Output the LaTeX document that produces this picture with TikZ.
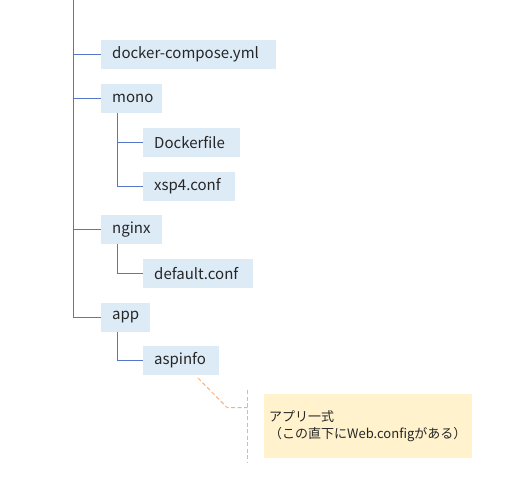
\documentclass[tikz,border=0pt]{standalone}
\usepackage{fontspec}
\setmainfont{Noto Sans CJK JP}
\usetikzlibrary{positioning}
\definecolor{boxblue}{HTML}{DDEBF7}
\definecolor{treeline}{HTML}{5676C8}
\definecolor{notefill}{HTML}{FFF2CC}
\definecolor{noteline}{HTML}{F4B183}
\definecolor{txt}{HTML}{262626}

\begin{document}
\begin{tikzpicture}[x=1pt,y=-1pt,
    file node/.style={fill=boxblue,anchor=west,minimum height=29pt,inner xsep=11pt,text=txt,align=left,font=\fontsize{15}{17}\selectfont},
    boxw/.style={text width=#1pt-22pt},
    note node/.style={fill=notefill,anchor=north west,minimum width=208pt,minimum height=64pt,inner xsep=5pt,text width=198pt,align=left,text=txt,font=\fontsize{13}{16.5}\selectfont},
    branch/.style={draw=treeline,line width=1pt},
    leader/.style={draw=noteline,line width=1pt,dash pattern=on 4pt off 2.5pt}]

    \useasboundingbox (0,0) rectangle (532,482);

    \coordinate (top) at (73.5,0);
    \node[file node,boxw=175] (compose) at (101,54.5) {docker-compose.yml};
    \node[file node,boxw=61] (mono) at (101,98.5) {mono};
    \node[file node,boxw=97] (docker) at (143,142.5) {Dockerfile};
    \node[file node,boxw=92] (xsp) at (143,186.5) {xsp4.conf};
    \node[file node,boxw=61] (nginx) at (101,229.5) {nginx};
    \node[file node,boxw=110] (default) at (143,273.5) {default.conf};
    \node[file node,boxw=49] (app) at (101,317.5) {app};
    \node[file node,boxw=76] (aspinfo) at (143,360.5) {aspinfo};

    \node[note node] (note) at (264,394) {アプリ一式\\（この直下にWeb.configがある）};
    \coordinate (lead) at (198,378);
    \coordinate (bend) at (227,407.5);
    \coordinate (brtop) at (247.5,390);
    \coordinate (brbot) at (247.5,463);

    % main trunk
    \draw[branch] (top) |- (compose.west)
                  (top) |- (mono.west)
                  (top) |- (nginx.west)
                  (top) |- (app.west);
    % sub folders
    \draw[branch] ([xshift=16.5pt]mono.south west) |- (docker.west)
                  ([xshift=16.5pt]mono.south west) |- (xsp.west);
    \draw[branch] ([xshift=16.5pt]nginx.south west) |- (default.west);
    \draw[branch] ([xshift=16.5pt]app.south west) |- (aspinfo.west);

    % callout
    \draw[leader] (lead) -- (bend) -- (bend -| brtop);
    \draw[leader] (brtop) -- (brbot);
\end{tikzpicture}
\end{document}
